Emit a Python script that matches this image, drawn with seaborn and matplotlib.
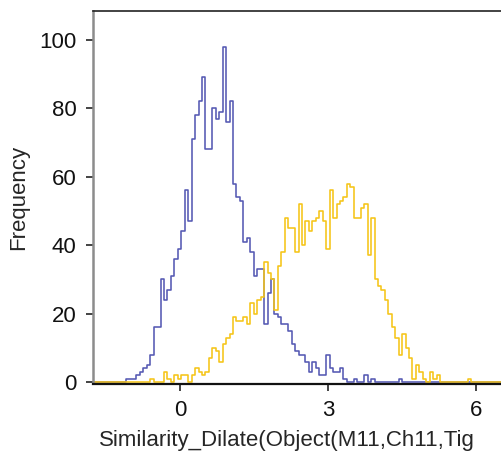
import numpy as np
import pandas as pd
import matplotlib
matplotlib.use("Agg")
import matplotlib.pyplot as plt
import seaborn as sns

# histogram bins (shared by both series)
bin_start = -1.795
bin_width = 0.07

# blue series, counts per bin (120 bins)
blue_counts = [
    0, 0, 0, 0, 0, 0, 0, 0, 0, 0,
    1, 1, 1, 2, 3, 4, 5, 8, 16, 16,
    30, 24, 27, 31, 36, 39, 44, 56, 47, 71,
    78, 82, 89, 68, 68, 80, 77, 79, 98, 76,
    82, 58, 54, 53, 41, 42, 38, 31, 33, 33,
    17, 26, 30, 20, 19, 17, 17, 15, 11, 9,
    8, 8, 6, 3, 6, 4, 2, 2, 8, 4,
    3, 3, 4, 1, 0, 0, 1, 0, 0, 2,
    0, 1, 0, 0, 0, 0, 0, 0, 0, 1,
    0, 0, 0, 0, 0, 0, 0, 0, 0, 0,
    0, 0, 0, 0, 0, 0, 0, 0, 0, 0,
    0, 0, 0, 0, 0, 0, 0, 0, 0, 0,
]

# yellow series, counts per bin (120 bins)
yellow_counts = [
    0, 0, 0, 0, 0, 0, 0, 0, 0, 0,
    0, 0, 0, 0, 0, 0, 0, 1, 0, 0,
    0, 3, 1, 0, 2, 1, 2, 2, 0, 2,
    4, 3, 2, 3, 7, 10, 9, 6, 11, 13,
    14, 19, 18, 18, 19, 17, 23, 20, 24, 25,
    35, 32, 30, 21, 34, 38, 48, 45, 45, 38,
    52, 40, 47, 44, 47, 48, 50, 47, 39, 56,
    48, 52, 53, 54, 58, 57, 48, 48, 51, 52,
    37, 48, 30, 28, 27, 24, 20, 16, 13, 8,
    14, 10, 7, 1, 5, 3, 1, 0, 3, 1,
    2, 0, 0, 0, 0, 0, 0, 0, 0, 1,
    0, 0, 0, 0, 0, 0, 0, 0, 0, 0,
]

x_ticks = [0, 3, 6]
y_ticks = [0, 20, 40, 60, 80, 100]
x_label = "Similarity_Dilate(Object(M11,Ch11,Tig"
y_label = "Frequency"

edges = bin_start + bin_width * np.arange(len(blue_counts) + 1)
centers = edges[:-1] + bin_width / 2
df = pd.DataFrame({"x": centers, "blue": blue_counts, "yellow": yellow_counts})

sns.set_style("white")
plt.rcParams["font.family"] = ["Liberation Sans", "DejaVu Sans"]

fig = plt.figure(figsize=(5.01, 4.55), dpi=100)
ax = fig.add_axes([93 / 501, 1 - 383.5 / 455, 412 / 501, 372.5 / 455])

sns.histplot(data=df, x="x", weights="blue", bins=list(edges), element="step",
             fill=False, color="#5559b3", linewidth=1.15, ax=ax)
sns.histplot(data=df, x="x", weights="yellow", bins=list(edges), element="step",
             fill=False, color="#f5c518", linewidth=1.15, ax=ax)

ax.set_xlim(-1.765, 6.592)
ax.set_ylim(-0.4, 108.4)
ax.set_xticks(x_ticks)
ax.set_yticks(y_ticks)
ax.tick_params(axis="both", labelsize=16, length=5, width=1.1,
               direction="out", colors="#111111", pad=7)
ax.tick_params(axis="x", bottom=True)
ax.tick_params(axis="y", left=True)

ax.spines["right"].set_visible(False)
ax.spines["top"].set_color("#222222")
ax.spines["top"].set_linewidth(1.2)
ax.spines["bottom"].set_color("#111111")
ax.spines["bottom"].set_linewidth(1.6)
ax.spines["left"].set_color("#8c8c8c")
ax.spines["left"].set_linewidth(1.8)

ax.set_xlabel(x_label, fontsize=16, ha="left")
ax.xaxis.set_label_coords(6 / 412, -46 / 372)
ax.set_ylabel(y_label, fontsize=16)
ax.yaxis.set_label_coords(-64 / 412, 0.5)

fig.savefig("out.png", dpi=100)
